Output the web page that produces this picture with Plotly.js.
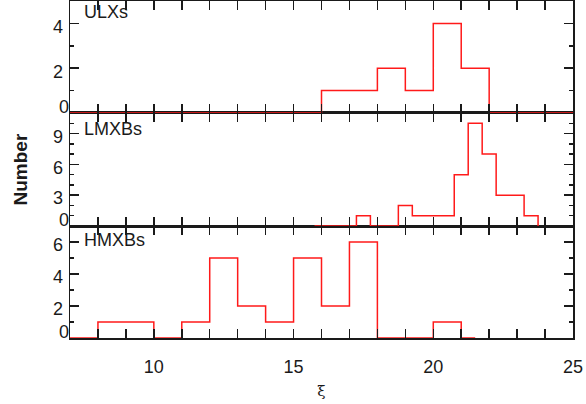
<!DOCTYPE html>
<html><head><meta charset="utf-8">
<script src="https://cdn.plot.ly/plotly-3.0.1.min.js"></script>
<style>html,body{margin:0;padding:0;background:#fff}#chart{width:586px;height:404px}</style>
</head><body><div id="chart"></div>
<script>
// ---- data ----
const panelNames = ['ULXs', 'LMXBs', 'HMXBs'];
const ulxEdges  = [7, 16, 17, 18, 19, 20, 21, 22, 25];
const ulxCounts = [0, 1, 1, 2, 1, 4, 2, 0];
const lmxbEdges  = [15.75, 17.25, 17.75, 18.75, 19.25, 20.75, 21.25, 21.75, 22.25, 23.25, 23.75];
const lmxbCounts = [0, 1, 0, 2, 1, 5, 10, 7, 3, 1];
const hmxbEdges  = [7, 8, 10, 11, 12, 13, 14, 15, 16, 17, 18, 20, 21, 21.5];
const hmxbCounts = [0, 1, 0, 1, 5, 2, 1, 5, 2, 6, 0, 1, 0];
const xTickVals = [10, 15, 20, 25];
const ulxTicks  = [2, 4];
const lmxbTicks = [3, 6, 9];
const hmxbTicks = [2, 4, 6];
const zeroTick = [0];
const xRange = [7, 25];
const ulxRange = [0, 5];
const lmxbRange = [0, 11];
const hmxbRange = [0, 7];
const xTitle = 'ξ';
const yTitle = 'Number';

// ---- build ----
const RED = '#ff1a1a', INK = '#1a1a1a';
function stepTrace(edges, counts, xa, ya) {
  return {x: edges, y: counts.concat([0]), mode: 'lines', type: 'scatter',
    line: {shape: 'hv', color: RED, width: 1.5}, xaxis: xa, yaxis: ya,
    hoverinfo: 'skip', showlegend: false};
}
function dummy(xa, ya) {
  return {x: [], y: [], mode: 'lines', type: 'scatter', xaxis: xa, yaxis: ya, showlegend: false, hoverinfo: 'skip'};
}
const data = [
  stepTrace(hmxbEdges, hmxbCounts, 'x', 'y'),
  stepTrace(lmxbEdges, lmxbCounts, 'x2', 'y2'),
  stepTrace(ulxEdges, ulxCounts, 'x3', 'y3'),
  dummy('x', 'y4'), dummy('x2', 'y5'), dummy('x3', 'y6')
];
const minorTicks = {ticks: 'inside', ticklen: 4, tickwidth: 1.5, tickcolor: INK, dtick: 1, tick0: 0};
function xAx(anchor, labels) {
  return {anchor: anchor, range: xRange, showline: true, linecolor: INK, linewidth: 1.5,
    mirror: 'allticks', ticks: 'inside', ticklen: 9, tickwidth: 1.5, tickcolor: INK,
    tickmode: 'array', tickvals: xTickVals, minor: minorTicks, showgrid: false, zeroline: false,
    showticklabels: labels, ticklabelstandoff: 12, fixedrange: true};
}
function yAx(domain, range, ticks) {
  return {domain: domain, range: range, showline: true, linecolor: INK, linewidth: 1.5,
    mirror: 'allticks', ticks: 'inside', ticklen: 9, tickwidth: 1.5, tickcolor: INK,
    tickmode: 'array', tickvals: ticks, minor: minorTicks, showgrid: false, zeroline: false,
    ticklabelshift: 3, ticklabelstandoff: 2, fixedrange: true};
}
function zAx(over, range) {
  return {overlaying: over, anchor: over === 'y' ? 'x' : (over === 'y2' ? 'x2' : 'x3'), range: range, side: 'left',
    showline: false, ticks: '', tickmode: 'array', tickvals: zeroTick, ticktext: zeroTick.map(String),
    showgrid: false, zeroline: false, ticklabelshift: -6, ticklabelstandoff: 6.3, fixedrange: true};
}
const bDom = [0, 0.3323], mDom = [0.3323, 0.6677], tDom = [0.6677, 1];
const xa = xAx('y', true);
xa.title = {text: xTitle, font: {family: 'DejaVu Serif, serif', size: 15, color: INK}, standoff: 9};
const layout = {
  width: 586, height: 404,
  margin: {l: 70, r: 13, t: 1, b: 66},
  paper_bgcolor: '#fff', plot_bgcolor: '#fff', showlegend: false,
  font: {family: 'Liberation Sans, Arial, sans-serif', size: 18, color: INK},
  xaxis: xa,
  xaxis2: Object.assign(xAx('y2', false), {matches: 'x'}),
  xaxis3: Object.assign(xAx('y3', false), {matches: 'x'}),
  yaxis: yAx(bDom, hmxbRange, hmxbTicks),
  yaxis2: Object.assign(yAx(mDom, lmxbRange, lmxbTicks), {anchor: 'x2'}),
  yaxis3: Object.assign(yAx(tDom, ulxRange, ulxTicks), {anchor: 'x3'}),
  yaxis4: zAx('y', hmxbRange),
  yaxis5: zAx('y2', lmxbRange),
  yaxis6: zAx('y3', ulxRange),
  annotations: [
    {text: panelNames[0], xref: 'paper', yref: 'y3 domain', x: 0.024, y: 0.906, xanchor: 'left', yanchor: 'middle', showarrow: false, font: {size: 18, color: INK}},
    {text: panelNames[1], xref: 'paper', yref: 'y2 domain', x: 0.024, y: 0.86, xanchor: 'left', yanchor: 'middle', showarrow: false, font: {size: 18, color: INK}},
    {text: panelNames[2], xref: 'paper', yref: 'y domain', x: 0.024, y: 0.877, xanchor: 'left', yanchor: 'middle', showarrow: false, font: {size: 18, color: INK}},
    {text: yTitle, xref: 'paper', yref: 'paper', x: -0.0994, y: 0.5, xanchor: 'center', yanchor: 'middle', textangle: -90, showarrow: false, font: {size: 19, weight: 'bold', color: INK}}
  ]
};
Plotly.newPlot('chart', data, layout, {displayModeBar: false, staticPlot: true});
</script></body></html>
